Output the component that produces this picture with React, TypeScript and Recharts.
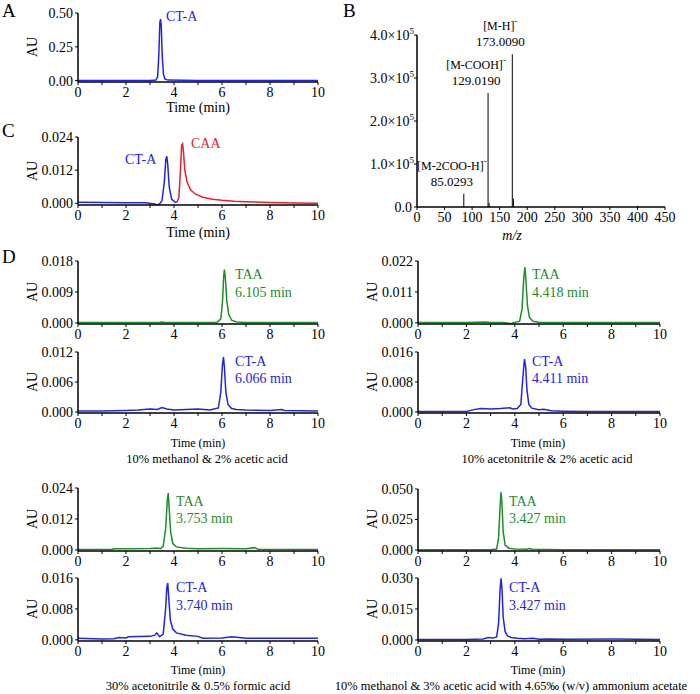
import React from 'react';
import { LineChart, Line, XAxis, YAxis, BarChart, Bar, LabelList } from 'recharts';

const FONT = '"Liberation Serif", "Times New Roman", serif';
const BLUE = '#2323e6';
const GREEN = '#1e8c28';
const RED = '#e8202a';

const timeTicks = [0, 1, 2, 3, 4, 5, 6, 7, 8, 9, 10];

// A: CT-A standard
const aTime = [0, 1, 2, 3, 3.25, 3.32, 3.37, 3.41, 3.44, 3.47, 3.51, 3.56, 3.62, 3.75, 5, 10];
const aAu = [0.002, 0.002, 0.002, 0.002, 0.004, 0.03, 0.2, 0.43, 0.455, 0.4, 0.18, 0.05, 0.012, 0.004, 0.002, 0.002];

// C: CT-A (blue) then CAA (red)
const cBlueTime = [0, 1, 2, 2.8, 3.2, 3.3, 3.4, 3.5, 3.6, 3.66, 3.7, 3.74, 3.8, 3.9, 4.05, 4.12];
const cBlueAu = [0.0004, 0.0003, 0.0002, 0.0002, -0.0002, -0.0006, -0.0002, 0.001, 0.008, 0.016, 0.017, 0.014, 0.006, 0.0015, 0.0004, 0.0004];
const cRedTime = [4.12, 4.2, 4.27, 4.32, 4.36, 4.4, 4.45, 4.55, 4.7, 4.9, 5.2, 5.6, 6, 6.5, 7, 8, 9, 10];
const cRedAu = [0.0004, 0.002, 0.012, 0.021, 0.0215, 0.018, 0.012, 0.0075, 0.0048, 0.0033, 0.0022, 0.0015, 0.0011, 0.0008, 0.0006, 0.0003, 0.0001, 0];

// B: mass spectrum
const specMz = [85.0293, 129.019, 131, 173.009, 175, 401];
const specIntensity = [0.31e5, 2.65e5, 0.1e5, 3.55e5, 0.2e5, 0.03e5];
const specIon = ['[M-2COO-H]', '[M-COOH]', '', '[M-H]', '', ''];
const specMass = ['85.0293', '129.0190', '', '173.0090', '', ''];
const specTicks = [0, 1e5, 2e5, 3e5, 4e5];
const mzTicks = [0, 50, 100, 150, 200, 250, 300, 350, 400, 450];

// D: methanol / acetic acid
const d1Time = [0, 2, 3.3, 3.5, 3.7, 5, 5.8, 5.95, 6.02, 6.07, 6.1, 6.14, 6.2, 6.28, 6.4, 6.6, 7, 10];
const d1Au = [0.0001, 0.0001, 0.0001, 0.0003, 0.0001, 0.0001, 0.0002, 0.0012, 0.006, 0.0135, 0.0155, 0.013, 0.0065, 0.0025, 0.0008, 0.0003, 0.0001, 0.0001];
const d2Time = [0, 1, 2, 2.5, 3, 3.3, 3.5, 3.7, 4, 4.5, 5, 5.5, 5.85, 5.95, 6.02, 6.06, 6.1, 6.16, 6.25, 6.4, 6.6, 7, 8, 8.5, 8.6, 10];
const d2Au = [0.0002, 0.0002, 0.0003, 0.0004, 0.0006, 0.0005, 0.0009, 0.0006, 0.0004, 0.0005, 0.0006, 0.0004, 0.0008, 0.004, 0.0095, 0.011, 0.009, 0.004, 0.0015, 0.0007, 0.0005, 0.0004, 0.0003, 0.0005, 0.0003, 0.0002];
// acetonitrile / acetic acid
const d3Time = [0, 2, 2.8, 3, 3.5, 3.85, 3.95, 4.2, 4.3, 4.37, 4.42, 4.46, 4.52, 4.6, 4.75, 5, 6, 10];
const d3Au = [0.0001, 0.0001, 0.0003, 0.0001, 0.0001, -0.0003, 0.0001, 0.0006, 0.005, 0.016, 0.0198, 0.015, 0.0065, 0.002, 0.0006, 0.0002, 0.0001, 0.0001];
const d4Time = [0, 1, 2, 2.3, 2.6, 3, 3.4, 3.8, 3.9, 4.1, 4.25, 4.33, 4.4, 4.45, 4.5, 4.58, 4.7, 5, 5.2, 5.5, 6, 7, 10];
const d4Au = [0.0001, 0.0001, 0.0001, 0.0006, 0.0009, 0.0008, 0.0009, 0.0011, 0.0008, 0.0009, 0.002, 0.009, 0.0141, 0.012, 0.006, 0.002, 0.001, 0.0006, 0.0007, 0.0003, 0.0002, 0.0001, 0.0001];
// acetonitrile / formic acid
const d5Time = [0, 1.4, 1.5, 2, 3, 3.3, 3.45, 3.55, 3.65, 3.72, 3.76, 3.8, 3.86, 3.95, 4.1, 4.5, 5, 6, 7, 7.35, 7.5, 10];
const d5Au = [0.0002, 0.0002, 0.0005, 0.0005, 0.0006, 0.0008, 0.0005, 0.0015, 0.008, 0.019, 0.022, 0.016, 0.007, 0.0025, 0.0012, 0.0007, 0.0005, 0.0006, 0.0005, 0.0009, 0.0003, 0.0002];
const d6Time = [0, 1, 1.5, 1.7, 2, 2.1, 3, 3.2, 3.28, 3.4, 3.55, 3.65, 3.7, 3.74, 3.78, 3.85, 3.95, 4.1, 4.5, 5, 5.2, 6, 6.4, 7, 10];
const d6Au = [0.0004, 0.0002, 0.0003, 0.0006, 0.0005, 0.0008, 0.0009, 0.0012, 0.0018, 0.0008, 0.0015, 0.008, 0.0135, 0.0147, 0.011, 0.005, 0.0028, 0.0018, 0.0012, 0.0009, 0.0004, 0.0005, 0.0008, 0.0004, 0.0004];
// methanol / acetic acid / ammonium acetate
const d7Time = [0, 2, 3, 3.25, 3.33, 3.39, 3.43, 3.47, 3.52, 3.6, 3.75, 4, 4.5, 4.6, 4.7, 6, 10];
const d7Au = [0.0003, 0.0003, 0.0003, 0.0008, 0.01, 0.035, 0.0475, 0.038, 0.015, 0.004, 0.0015, 0.0008, 0.0007, 0.0012, 0.0006, 0.0003, 0.0003];
const d8Time = [0, 2, 2.7, 2.9, 3.1, 3.25, 3.33, 3.39, 3.43, 3.47, 3.52, 3.6, 3.7, 3.85, 4.1, 4.4, 4.75, 5, 5.4, 6.2, 8.1, 10];
const d8Au = [0.0002, 0.0002, 0.0005, 0.0012, 0.0009, 0.0015, 0.008, 0.024, 0.0298, 0.025, 0.011, 0.004, 0.002, 0.0012, 0.0008, 0.0006, 0.0008, 0.0004, 0.0005, 0.0004, 0.0005, 0.0002];

const zip = (t: number[], v: number[]) => t.map((x, i) => ({ t: x, v: v[i] }));

const tickStyle = { fill: '#000', fontSize: 14, fontFamily: FONT };

type Series = { data: { t: number; v: number }[]; color: string };

function Chrom({ left, top, width, height, lines, ticks, digits, yMin }: {
  left: number; top: number; width: number; height: number; lines: Series[];
  ticks: number[]; digits: number; yMin: number;
}) {
  const yMax = ticks[ticks.length - 1];
  return (
    <div style={{ position: 'absolute', left: left - 60, top: top - 8 }}>
      <LineChart width={width + 72} height={height + 34} margin={{ top: 8, right: 12, bottom: 0, left: 0 }}>
        <XAxis
          type="number"
          dataKey="t"
          domain={[0, 10]}
          ticks={timeTicks}
          interval={0}
          tickFormatter={(v: number) => (v % 2 === 0 ? String(v) : '')}
          tick={tickStyle}
          tickSize={3}
          axisLine={{ stroke: '#000', strokeWidth: 1.5 }}
          tickLine={{ stroke: '#000' }}
          height={26}
        />
        <YAxis
          type="number"
          domain={[yMin, yMax]}
          ticks={ticks}
          interval={0}
          allowDataOverflow
          tickFormatter={(v: number) => v.toFixed(digits)}
          tick={tickStyle}
          tickSize={3}
          axisLine={{ stroke: '#000', strokeWidth: 1.5 }}
          tickLine={{ stroke: '#000' }}
          width={60}
        />
        {lines.map((l, i) => (
          <Line key={i} data={l.data} dataKey="v" type="linear" stroke={l.color} strokeWidth={1.5} dot={false} isAnimationActive={false} />
        ))}
      </LineChart>
    </div>
  );
}

function Txt({ x, y, children, color = '#000', size = 14, anchor = 'left', italic = false }: any) {
  const tx = anchor === 'center' ? '-50%' : '0';
  return (
    <div style={{
      position: 'absolute', left: x, top: y, transform: `translate(${tx}, -50%)`, whiteSpace: 'nowrap',
      color, fontSize: size, fontFamily: FONT, lineHeight: 1, fontStyle: italic ? 'italic' : 'normal',
    }}>{children}</div>
  );
}

function AU({ x, y }: { x: number; y: number }) {
  return (
    <div style={{ position: 'absolute', left: x, top: y, width: 0, height: 0 }}>
      <div style={{ position: 'absolute', left: 0, top: 0, transform: 'translate(-50%, -50%) rotate(-90deg)', fontFamily: FONT, fontSize: 14, lineHeight: 1, whiteSpace: 'nowrap' }}>AU</div>
    </div>
  );
}

const SciTick = (props: any) => {
  const { x, y, payload } = props;
  const v = payload.value / 1e5;
  if (v === 0) {
    return <text x={x} y={y} dy={5} textAnchor="end" fontSize={14} fontFamily={FONT} fill="#000">0.0</text>;
  }
  return (
    <text x={x + 2} y={y} dy={5} textAnchor="end" fontSize={14} fontFamily={FONT} fill="#000">
      {v.toFixed(1)}×10<tspan dy={-6} fontSize={9}>5</tspan>
    </text>
  );
};

const SpecLabel = (props: any) => {
  const { x, y, width, index } = props;
  const ion = specIon[index];
  if (!ion) return null;
  const cx = x + width / 2 - 12;
  return (
    <g fontFamily={FONT} fill="#000" textAnchor="middle">
      <text x={cx} y={y - 24} fontSize={12}>{ion}<tspan dy={-6} fontSize={9}>-</tspan></text>
      <text x={cx} y={y - 8} fontSize={13}>{specMass[index]}</text>
    </g>
  );
};

export default function App() {
  const spec = specMz.map((m, i) => ({ mz: m, intensity: specIntensity[i], ion: specIon[i] }));
  const L = 78;
  const R = 418;
  return (
    <div style={{ position: 'absolute', left: 0, top: 0, width: 700, height: 694, background: '#fff', fontFamily: FONT, overflow: 'hidden' }}>
      {/* panel letters */}
      <Txt x={2} y={10} size={19}>A</Txt>
      <Txt x={343} y={10} size={19}>B</Txt>
      <Txt x={2} y={130} size={19}>C</Txt>
      <Txt x={2} y={256} size={19}>D</Txt>

      {/* A */}
      <Chrom left={L} top={13} width={240} height={69} lines={[{ data: zip(aTime, aAu), color: BLUE }]} ticks={[0, 0.25, 0.5]} digits={2} yMin={-0.01} />
      <AU x={33} y={47} />
      <Txt x={166} y={17} color={BLUE}>CT-A</Txt>
      <Txt x={198} y={108} anchor="center">Time (min)</Txt>

      {/* C */}
      <Chrom left={L} top={137} width={240} height={68} lines={[{ data: zip(cBlueTime, cBlueAu), color: BLUE }, { data: zip(cRedTime, cRedAu), color: RED }]} ticks={[0, 0.012, 0.024]} digits={3} yMin={-0.0006} />
      <AU x={33} y={171} />
      <Txt x={125} y={160} color={BLUE}>CT-A</Txt>
      <Txt x={191} y={144} color={RED}>CAA</Txt>
      <Txt x={198} y={233} anchor="center">Time (min)</Txt>

      {/* B */}
      <div style={{ position: 'absolute', left: 417 - 75, top: 0 }}>
        <BarChart width={248 + 75 + 15} height={172 + 35 + 26} data={spec} margin={{ top: 35, right: 15, bottom: 0, left: 0 }}>
          <XAxis type="number" dataKey="mz" domain={[0, 450]} ticks={mzTicks} interval={0} tick={tickStyle} tickSize={3}
            axisLine={{ stroke: '#000', strokeWidth: 1.5 }} tickLine={{ stroke: '#000' }} height={26} />
          <YAxis type="number" domain={[0, 4e5]} ticks={specTicks} interval={0} tick={<SciTick />} tickSize={3}
            axisLine={{ stroke: '#000', strokeWidth: 1.5 }} tickLine={{ stroke: '#000' }} width={75} />
          <Bar dataKey="intensity" fill="#000" barSize={2} isAnimationActive={false}>
            <LabelList dataKey="ion" content={<SpecLabel />} />
          </Bar>
        </BarChart>
      </div>
      <Txt x={512} y={236} anchor="center" italic>m/z</Txt>

      {/* D, upper left: methanol & acetic acid */}
      <Chrom left={L} top={261} width={240} height={63} lines={[{ data: zip(d1Time, d1Au), color: GREEN }]} ticks={[0, 0.009, 0.018]} digits={3} yMin={-0.0003} />
      <AU x={33} y={292} />
      <Txt x={235} y={275} color={GREEN}>TAA</Txt>
      <Txt x={235} y={293} color={GREEN}>6.105 min</Txt>
      <Chrom left={L} top={352} width={240} height={61} lines={[{ data: zip(d2Time, d2Au), color: BLUE }]} ticks={[0, 0.006, 0.012]} digits={3} yMin={-0.0002} />
      <AU x={33} y={382} />
      <Txt x={235} y={362} color={BLUE}>CT-A</Txt>
      <Txt x={235} y={379} color={BLUE}>6.066 min</Txt>
      <Txt x={198} y={443} size={12} anchor="center">Time (min)</Txt>
      <Txt x={207} y={459} size={12.5} anchor="center">10% methanol &amp; 2% acetic acid</Txt>

      {/* D, upper right: acetonitrile & acetic acid */}
      <Chrom left={R} top={261} width={242} height={63} lines={[{ data: zip(d3Time, d3Au), color: GREEN }]} ticks={[0, 0.011, 0.022]} digits={3} yMin={-0.0004} />
      <AU x={373} y={292} />
      <Txt x={532} y={275} color={GREEN}>TAA</Txt>
      <Txt x={532} y={293} color={GREEN}>4.418 min</Txt>
      <Chrom left={R} top={352} width={242} height={61} lines={[{ data: zip(d4Time, d4Au), color: BLUE }]} ticks={[0, 0.008, 0.016]} digits={3} yMin={-0.0003} />
      <AU x={373} y={382} />
      <Txt x={532} y={362} color={BLUE}>CT-A</Txt>
      <Txt x={532} y={379} color={BLUE}>4.411 min</Txt>
      <Txt x={538} y={443} size={12} anchor="center">Time (min)</Txt>
      <Txt x={547} y={459} size={12.5} anchor="center">10% acetonitrile &amp; 2% acetic acid</Txt>

      {/* D, lower left: acetonitrile & formic acid */}
      <Chrom left={L} top={488} width={240} height={63} lines={[{ data: zip(d5Time, d5Au), color: GREEN }]} ticks={[0, 0.012, 0.024]} digits={3} yMin={-0.0004} />
      <AU x={33} y={519} />
      <Txt x={176} y={502} color={GREEN}>TAA</Txt>
      <Txt x={176} y={519} color={GREEN}>3.753 min</Txt>
      <Chrom left={L} top={578} width={240} height={63} lines={[{ data: zip(d6Time, d6Au), color: BLUE }]} ticks={[0, 0.008, 0.016]} digits={3} yMin={-0.0003} />
      <AU x={33} y={609} />
      <Txt x={176} y={588} color={BLUE}>CT-A</Txt>
      <Txt x={176} y={606} color={BLUE}>3.740 min</Txt>
      <Txt x={198} y={670} size={12} anchor="center">Time (min)</Txt>
      <Txt x={198} y={686} size={12.5} anchor="center">30% acetonitrile &amp; 0.5% formic acid</Txt>

      {/* D, lower right: methanol & acetic acid with ammonium acetate */}
      <Chrom left={R} top={489} width={242} height={62} lines={[{ data: zip(d7Time, d7Au), color: GREEN }]} ticks={[0, 0.025, 0.05]} digits={3} yMin={-0.0008} />
      <AU x={373} y={519} />
      <Txt x={509} y={502} color={GREEN}>TAA</Txt>
      <Txt x={509} y={519} color={GREEN}>3.427 min</Txt>
      <Chrom left={R} top={578} width={242} height={63} lines={[{ data: zip(d8Time, d8Au), color: BLUE }]} ticks={[0, 0.015, 0.03]} digits={3} yMin={-0.0005} />
      <AU x={373} y={609} />
      <Txt x={509} y={588} color={BLUE}>CT-A</Txt>
      <Txt x={509} y={606} color={BLUE}>3.427 min</Txt>
      <Txt x={538} y={670} size={12} anchor="center">Time (min)</Txt>
      <Txt x={511} y={686} size={12.5} anchor="center">10% methanol &amp; 3% acetic acid with 4.65‰ (w/v) ammonium acetate</Txt>
    </div>
  );
}
